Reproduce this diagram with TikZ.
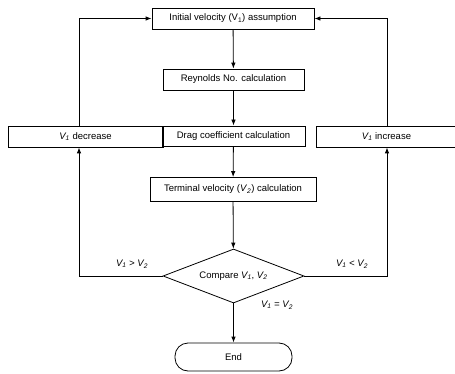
\documentclass[tikz,border=0pt]{standalone}
\usepackage{fontspec}
\setmainfont{Liberation Sans}
\usetikzlibrary{shapes.geometric,arrows.meta}
\begin{document}
\begin{tikzpicture}[x=1pt,y=-1pt,
  every node/.style={font=\fontsize{9.5}{11}\selectfont},
  box/.style={draw,line width=0.8pt,inner sep=0pt},
  arr/.style={line width=0.8pt,-{Latex[length=6pt,width=4.5pt]}},
  ln/.style={line width=0.8pt},
  lbl/.style={inner sep=0pt}]
\useasboundingbox (0,0) rectangle (455,374);
\node[box,minimum width=162pt,minimum height=21pt] (init) at (233,18.5) {Initial velocity (V\textsubscript{1}) assumption};
\node[box,minimum width=141pt,minimum height=21pt] (rey) at (233.5,79.5) {Reynolds No. calculation};
\node[box,minimum width=143pt,minimum height=20pt] (drag) at (233.5,136) {Drag coefficient calculation};
\node[box,minimum width=166pt,minimum height=24pt] (term) at (233,189.5) {Terminal velocity (\textit{V}\textsubscript{\textit{2}}) calculation};
\node[box,diamond,aspect=2.6,minimum width=141pt,minimum height=54pt] (cmp) at (233.5,276) {Compare \textit{V\textsubscript{1}}, \textit{V\textsubscript{2}}};
\node[box,rounded corners=13pt,minimum width=117pt,minimum height=28pt] (end) at (233.5,357) {End};
\node[box,minimum width=155pt,minimum height=21pt] (dec) at (85.5,136.5) {\textit{V\textsubscript{1}} decrease};
\node[box,minimum width=141pt,minimum height=21pt] (inc) at (386.5,136.5) {\textit{V\textsubscript{1}} increase};
\coordinate (lc) at (79,276);
\coordinate (rc) at (387,276);
\draw[arr] (init) -- (rey);
\draw[arr] (rey) -- (drag);
\draw[arr] (drag) -- (term);
\draw[arr] (term) -- (cmp);
\draw[arr] (cmp) -- (end);
\draw[arr] (cmp.west) -- (lc) -- (lc |- dec.south);
\draw[arr] (lc |- dec.north) |- (init.west);
\draw[arr] (cmp.east) -- (rc) -- (rc |- inc.south);
\draw[arr] (rc |- inc.north) |- (init.east);
\node[lbl] (gt) at (132,264) {\textit{V\textsubscript{1} > V\textsubscript{2}}};
\node[lbl] (lt) at (352,264) {\textit{V\textsubscript{1} < V\textsubscript{2}}};
\node[lbl] (eq) at (277,305) {\textit{V\textsubscript{1} = V\textsubscript{2}}};
\end{tikzpicture}
\end{document}
